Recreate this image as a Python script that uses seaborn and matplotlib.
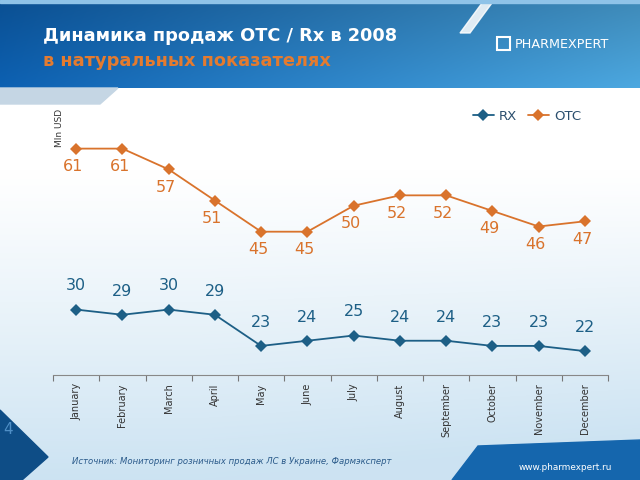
import numpy as np
import pandas as pd
import seaborn as sns
import matplotlib.pyplot as plt
from matplotlib.patches import Polygon, Rectangle

# data
months = ["January", "February", "March", "April", "May", "June", "July",
          "August", "September", "October", "November", "December"]
rx = [30, 29, 30, 29, 23, 24, 25, 24, 24, 23, 23, 22]
otc = [61, 61, 57, 51, 45, 45, 50, 52, 52, 49, 46, 47]
series = ["RX", "OTC"]

title = "Динамика продаж OTC / Rx в 2008"
subtitle = "в натуральных показателях"
source = "Источник: Мониторинг розничных продаж ЛС в Украине, Фармэксперт"

# long-form table for seaborn
df = pd.DataFrame({
    "idx": list(range(len(months))) * 2,
    "value": rx + otc,
    "series": ["RX"] * len(months) + ["OTC"] * len(months),
})

sns.set_style("white")
plt.rcParams["font.family"] = ["DejaVu Sans"]

c_rx = "#1d5f86"
c_otc = "#d9732c"

fig = plt.figure(figsize=(6.4, 4.8), dpi=100)

# slide background
bg = fig.add_axes([0, 0, 1, 1])
bg.set_xlim(0, 640)
bg.set_ylim(480, 0)
bg.axis("off")
yy = np.linspace(0, 480, 480)[:, None]
xx = np.linspace(0, 640, 640)[None, :]
t = np.clip((yy - 170) / 310, 0, 1) ** 1.1 + 0 * xx
t = np.clip(t + 0.15 * np.clip((xx - 200) / 440, 0, 1) * t, 0, 1)
light = np.array([0.80, 0.89, 0.95])
img = (1 - t[..., None]) * np.ones(3) + t[..., None] * light
bg.imshow(img, extent=(0, 640, 480, 0), aspect="auto", zorder=0)

# header band
hx = np.linspace(0, 1, 640)[None, :]
hy = np.linspace(0, 1, 88)[:, None]
left = np.array([0.05, 0.38, 0.70])
right = np.array([0.30, 0.66, 0.88])
h = (1 - hx[..., None]) * left + hx[..., None] * right
h = h * (0.82 + 0.18 * hy[..., None])
bg.imshow(np.clip(h, 0, 1), extent=(0, 640, 88, 0), aspect="auto", zorder=1)
bg.add_patch(Polygon([(0, 88), (118, 88), (100, 104), (0, 104)],
                     closed=True, color="#c5d6e4", zorder=1))
bg.add_patch(Polygon([(482, 3), (492, 3), (470, 33), (460, 33)],
                     closed=True, color="white", alpha=0.85, zorder=2))
bg.add_patch(Rectangle((0, 0), 640, 3, color="#8fc3e8", zorder=2))

bg.text(43, 36, title, color="white", fontsize=12.8, fontweight="bold",
        va="center", ha="left", zorder=3)
bg.text(43, 61, subtitle, color="#e47b2f", fontsize=12.8, fontweight="bold",
        va="center", ha="left", zorder=3)

# logo
bg.add_patch(Rectangle((497, 37), 13, 13, fill=False, ec="white", lw=1.5, zorder=3))
bg.text(515, 44, "PHARMEXPERT", color="white", fontsize=9.2, va="center",
        ha="left", zorder=3)

# footer
bg.add_patch(Polygon([(0, 410), (48, 457), (22, 480), (0, 480)],
                     closed=True, color="#0e4d86", zorder=1))
bg.text(8, 429, "4", color="#4f8fc6", fontsize=11, va="center", ha="center", zorder=3)
bg.add_patch(Polygon([(478, 446), (640, 440), (640, 480), (452, 480)],
                     closed=True, color="#1566ad", zorder=1))
bg.text(565, 467, "www.pharmexpert.ru", color="white", fontsize=6.4,
        va="center", ha="center", zorder=3)
bg.text(72, 461, source, color="#2a5a8a", fontsize=6.1, style="italic",
        va="center", ha="left", zorder=3)

# chart
ax = fig.add_axes([53 / 640, 1 - 375 / 480, 555 / 640, 270 / 480])
ax.patch.set_alpha(0)
sns.lineplot(data=df, x="idx", y="value", hue="series", hue_order=series,
             palette={"RX": c_rx, "OTC": c_otc}, marker="D", markersize=6,
             markeredgewidth=0, linewidth=1.3, ax=ax)

for i in range(len(months)):
    ax.annotate(str(otc[i]), (i, otc[i]), xytext=(-2, -13), textcoords="offset points",
                ha="center", va="center", fontsize=11.5, color=c_otc)
    ax.annotate(str(rx[i]), (i, rx[i]), xytext=(0, 17), textcoords="offset points",
                ha="center", va="center", fontsize=11.5, color=c_rx)

ax.set_xlim(-0.5, len(months) - 0.5)
ax.set_ylim(17.4, 69.4)
ax.set_xticks(range(len(months)))
ax.set_xticklabels(months, rotation=90, fontsize=7, color="#333333")
ax.set_xticks(np.arange(-0.5, len(months)), minor=True)
ax.tick_params(axis="x", which="major", length=0, pad=6)
ax.tick_params(axis="x", which="minor", length=4, color="#777777", width=0.8, bottom=True)
ax.set_yticks([])
ax.set_xlabel("")
ax.set_ylabel("")
for s in ["top", "right", "left"]:
    ax.spines[s].set_visible(False)
ax.spines["bottom"].set_color("#888888")
ax.spines["bottom"].set_linewidth(0.8)

handles, labels = ax.get_legend_handles_labels()
ax.legend(handles, labels, loc="center", bbox_to_anchor=(0.854, 0.959), ncol=2,
          frameon=False, fontsize=9.5, handlelength=1.6, columnspacing=0.8,
          handletextpad=0.4, labelcolor="#2b4f6e")

fig.text(60 / 640, 1 - 128 / 480, "Mln USD", rotation=90, fontsize=6.5,
         color="#333333", ha="center", va="center")

fig.savefig("out.png", dpi=100)
